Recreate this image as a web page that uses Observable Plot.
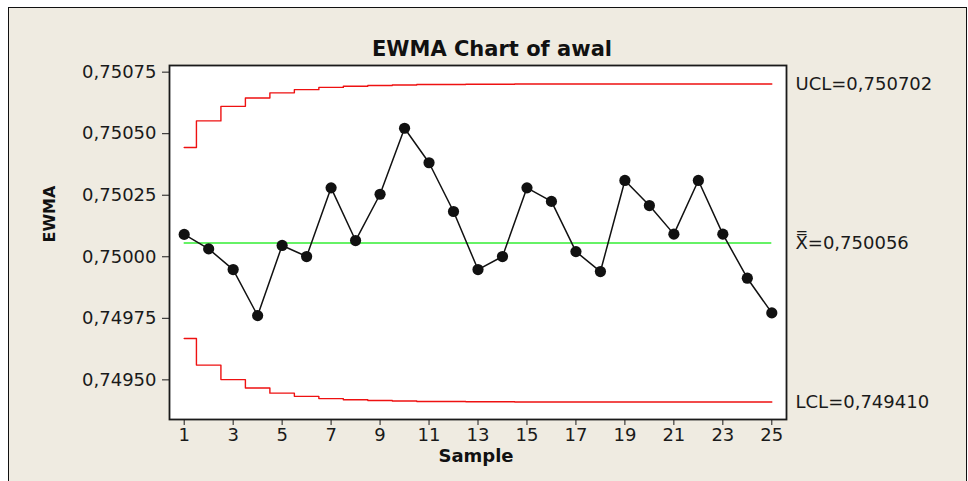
<!DOCTYPE html>
<html>
<head>
<meta charset="utf-8">
<script src="https://cdn.jsdelivr.net/npm/d3@7"></script>
<script src="https://cdn.jsdelivr.net/npm/@observablehq/plot@0.6"></script>
<style>
  body { margin: 0; background: #fff; }
  #panel { position: absolute; left: 8px; top: 7px; width: 959px; height: 480px;
           background: #efebe1; border: 1.5px solid #111; box-sizing: border-box; }
  #chart { position: absolute; left: 0; top: 0; }
</style>
</head>
<body>
<div id="panel"></div>
<div id="chart"></div>
<script>
// EWMA chart of "awal": 25 samples, smoothed values with stepped control limits
const samples = [1, 2, 3, 4, 5, 6, 7, 8, 9, 10, 11, 12, 13, 14, 15, 16, 17, 18, 19, 20, 21, 22, 23, 24, 25];

const ewma = [0.750091, 0.750032, 0.749948, 0.749761, 0.750046, 0.750001, 0.750280, 0.750066, 0.750254,
              0.750522, 0.750382, 0.750184, 0.749948, 0.750001, 0.750280, 0.750225, 0.750021, 0.749940,
              0.750310, 0.750208, 0.750092, 0.750310, 0.750092, 0.749913, 0.749772];

const ucl = [0.750444, 0.750552, 0.750611, 0.750645, 0.750666, 0.750679, 0.750688, 0.750693, 0.750696,
             0.750698, 0.750700, 0.750700, 0.750701, 0.750701, 0.750702, 0.750702, 0.750702, 0.750702,
             0.750702, 0.750702, 0.750702, 0.750702, 0.750702, 0.750702, 0.750702];

const lcl = [0.749668, 0.749560, 0.749501, 0.749467, 0.749446, 0.749433, 0.749424, 0.749419, 0.749416,
             0.749414, 0.749412, 0.749412, 0.749411, 0.749411, 0.749410, 0.749410, 0.749410, 0.749410,
             0.749410, 0.749410, 0.749410, 0.749410, 0.749410, 0.749410, 0.749410];

const centerValue = 0.750056;
const uclValue = 0.750702;
const lclValue = 0.749410;

const xTicks = [1, 3, 5, 7, 9, 11, 13, 15, 17, 19, 21, 23, 25];
const yTicks = [0.74950, 0.74975, 0.75000, 0.75025, 0.75050, 0.75075];

const rows = samples.map((s, i) => ({sample: s, ewma: ewma[i], ucl: ucl[i], lcl: lcl[i]}));

const comma = (d, n) => d.toFixed(n).replace(".", ",");

const chart = Plot.plot({
  width: 968,
  height: 481,
  marginLeft: 169,
  marginRight: 182,
  marginTop: 65,
  marginBottom: 62,
  style: {background: "transparent", fontFamily: "DejaVu Sans", fontSize: "18px", color: "#1a1a1a"},
  x: {domain: [0.4, 25.6]},
  y: {domain: [0.749339, 0.750777]},
  marks: [
    Plot.frame({fill: "white", stroke: null}),
    Plot.line(rows, {x: "sample", y: "ucl", curve: "step", stroke: "#ee1111", strokeWidth: 1.4}),
    Plot.line(rows, {x: "sample", y: "lcl", curve: "step", stroke: "#ee1111", strokeWidth: 1.4}),
    Plot.ruleY([centerValue], {x1: 1, x2: 25, stroke: "#33ee33", strokeWidth: 1.4}),
    Plot.line(rows, {x: "sample", y: "ewma", stroke: "#111", strokeWidth: 1.5}),
    Plot.dot(rows, {x: "sample", y: "ewma", r: 5.6, fill: "#111", stroke: null}),
    Plot.axisX({ticks: xTicks, tickFormat: d => String(d), tickSize: 6, tickPadding: 3, label: null}),
    Plot.axisY({ticks: yTicks, tickFormat: d => comma(d, 5), tickSize: 7, tickPadding: 6, label: null}),
    Plot.frame({stroke: "#1a1a1a", strokeWidth: 1.8}),
    // control limit labels (centre line: X double-bar)
    Plot.text([uclValue], {y: d => d, frameAnchor: "right", dx: 9, textAnchor: "start",
      text: d => "UCL=" + comma(d, 6), fill: "#1a1a1a"}),
    Plot.text([centerValue], {y: d => d, frameAnchor: "right", dx: 9, textAnchor: "start",
      text: d => "X\u033F=" + comma(d, 6), fill: "#1a1a1a"}),
    Plot.text([lclValue], {y: d => d, frameAnchor: "right", dx: 9, textAnchor: "start",
      text: d => "LCL=" + comma(d, 6), fill: "#1a1a1a"}),
    // title and axis titles
    Plot.text(["EWMA Chart of awal"], {frameAnchor: "top", dx: 14, dy: -24, text: d => d,
      fontSize: 21, fontWeight: "bold", fill: "#111"}),
    Plot.text(["Sample"], {frameAnchor: "bottom", dx: -2, dy: 42, text: d => d,
      fontSize: 18, fontWeight: "bold", fill: "#111"}),
    Plot.text(["EWMA"], {frameAnchor: "left", dx: -120, text: d => d, rotate: -90,
      fontSize: 16, fontWeight: "bold", fill: "#111"})
  ]
});

document.getElementById("chart").appendChild(chart);
</script>
</body>
</html>
